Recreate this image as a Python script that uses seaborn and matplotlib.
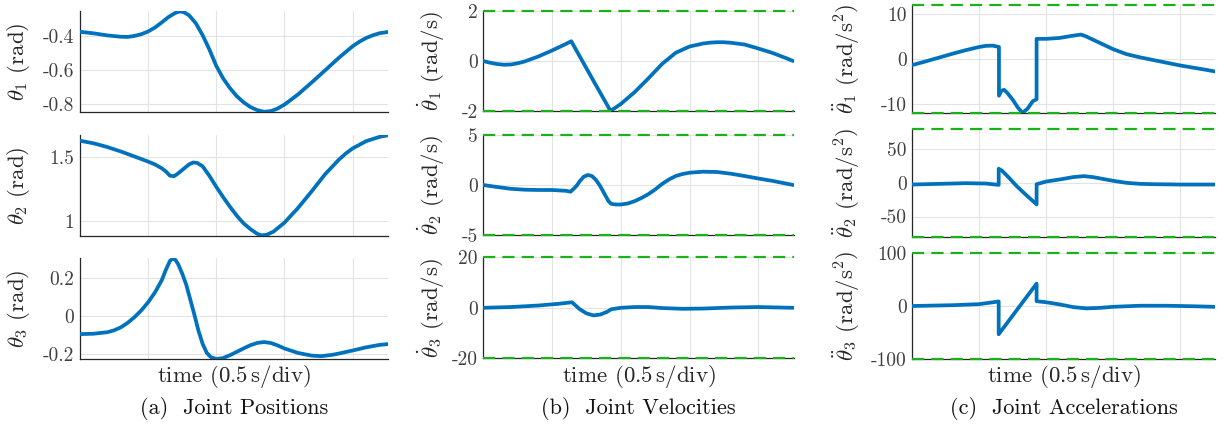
import numpy as np
import pandas as pd
import matplotlib
matplotlib.use("Agg")
import matplotlib.pyplot as plt
import seaborn as sns

# ---------------- data ----------------
t_pos1 = [0, 0.1, 0.2, 0.3, 0.35, 0.4, 0.45, 0.5, 0.55, 0.6, 0.65, 0.7, 0.73, 0.76, 0.8, 0.85,
          0.9, 0.95, 1.0, 1.05, 1.1, 1.15, 1.2, 1.25, 1.3, 1.35, 1.4, 1.45, 1.5, 1.6, 1.7, 1.8,
          1.9, 2.0, 2.05, 2.1, 2.15, 2.2, 2.26]
pos1 = [-0.375, -0.384, -0.396, -0.404, -0.405, -0.399, -0.389, -0.373, -0.350, -0.320, -0.288,
        -0.264, -0.256, -0.259, -0.278, -0.325, -0.395, -0.480, -0.575, -0.648, -0.705, -0.752,
        -0.788, -0.816, -0.834, -0.844, -0.840, -0.825, -0.802, -0.742, -0.672, -0.600, -0.527,
        -0.460, -0.433, -0.411, -0.395, -0.383, -0.376]

t_pos2 = [0, 0.1, 0.2, 0.3, 0.4, 0.5, 0.55, 0.6, 0.63, 0.66, 0.69, 0.72, 0.76, 0.8, 0.83, 0.86,
          0.9, 0.95, 1.0, 1.05, 1.1, 1.15, 1.2, 1.25, 1.3, 1.33, 1.37, 1.42, 1.5, 1.6, 1.7, 1.8,
          1.9, 1.95, 2.0, 2.1, 2.2, 2.26]
pos2 = [1.625, 1.605, 1.576, 1.541, 1.502, 1.462, 1.440, 1.410, 1.385, 1.352, 1.348, 1.370,
        1.405, 1.440, 1.455, 1.452, 1.425, 1.350, 1.265, 1.185, 1.110, 1.040, 0.980, 0.935,
        0.898, 0.886, 0.890, 0.915, 0.985, 1.100, 1.230, 1.365, 1.478, 1.525, 1.565, 1.622,
        1.656, 1.668]

t_pos3 = [0, 0.1, 0.2, 0.25, 0.3, 0.35, 0.4, 0.45, 0.5, 0.55, 0.6, 0.63, 0.66, 0.68, 0.70, 0.72,
          0.75, 0.78, 0.81, 0.84, 0.87, 0.9, 0.93, 0.96, 1.0, 1.05, 1.1, 1.15, 1.2, 1.25, 1.3,
          1.35, 1.4, 1.45, 1.5, 1.6, 1.7, 1.77, 1.85, 1.9, 2.0, 2.1, 2.2, 2.26]
pos3 = [-0.096, -0.094, -0.086, -0.076, -0.060, -0.036, -0.006, 0.030, 0.073, 0.125, 0.190,
        0.245, 0.292, 0.305, 0.298, 0.275, 0.225, 0.165, 0.085, 0.005, -0.080, -0.148, -0.195,
        -0.218, -0.228, -0.223, -0.208, -0.190, -0.172, -0.155, -0.143, -0.138, -0.143, -0.156,
        -0.172, -0.196, -0.210, -0.213, -0.206, -0.199, -0.183, -0.166, -0.153, -0.149]

t_vel1 = [0, 0.05, 0.1, 0.15, 0.2, 0.25, 0.3, 0.4, 0.5, 0.6, 0.64, 0.7, 0.8, 0.9, 0.925, 1.0,
          1.1, 1.2, 1.3, 1.4, 1.5, 1.6, 1.65, 1.7, 1.75, 1.8, 1.9, 2.0, 2.1, 2.2, 2.254]
vel1 = [0, -0.07, -0.12, -0.15, -0.14, -0.09, -0.02, 0.18, 0.42, 0.68, 0.79, 0.20, -0.78, -1.75,
        -2.0, -1.72, -1.25, -0.70, -0.12, 0.33, 0.58, 0.70, 0.735, 0.75, 0.75, 0.73, 0.66, 0.50,
        0.33, 0.12, 0]

t_vel2 = [0, 0.1, 0.2, 0.3, 0.4, 0.5, 0.6, 0.635, 0.66, 0.68, 0.7, 0.73, 0.76, 0.79, 0.82, 0.85,
          0.88, 0.91, 0.93, 0.96, 1.0, 1.05, 1.1, 1.15, 1.2, 1.25, 1.3, 1.35, 1.4, 1.45, 1.5, 1.6,
          1.7, 1.8, 1.9, 2.0, 2.1, 2.2, 2.254]
vel2 = [0, -0.2, -0.38, -0.47, -0.5, -0.5, -0.58, -0.67, -0.35, -0.05, 0.35, 0.82, 1.0, 0.9,
        0.5, -0.1, -0.85, -1.6, -1.88, -1.95, -1.95, -1.85, -1.62, -1.3, -0.92, -0.45, 0.1, 0.55,
        0.9, 1.1, 1.23, 1.33, 1.3, 1.13, 0.9, 0.65, 0.42, 0.15, 0]

t_vel3 = [0, 0.2, 0.4, 0.55, 0.645, 0.7, 0.75, 0.8, 0.85, 0.9, 0.93, 1.0, 1.1, 1.2, 1.3, 1.45,
          1.6, 1.8, 2.0, 2.254]
vel3 = [0, 0.3, 0.9, 1.6, 2.2, -0.5, -2.2, -3.0, -2.7, -1.6, -0.6, 0.0, 0.3, 0.3, -0.1, -0.4,
        -0.3, 0.1, 0.3, 0]

t_acc1 = [0, 0.1, 0.2, 0.3, 0.4, 0.5, 0.55, 0.6, 0.647, 0.647, 0.665, 0.685, 0.71, 0.75, 0.79,
          0.823, 0.86, 0.9, 0.928, 0.928, 1.0, 1.1, 1.2, 1.26, 1.3, 1.4, 1.5, 1.6, 1.7, 1.8, 1.9,
          2.0, 2.1, 2.2, 2.254]
acc1 = [-1.3, -0.5, 0.35, 1.2, 2.0, 2.7, 2.95, 3.0, 2.7, -8.1, -7.0, -6.8, -7.5, -9.0, -10.8,
        -11.9, -11.0, -9.3, -8.9, 4.5, 4.5, 4.7, 5.2, 5.45, 5.0, 3.6, 2.2, 1.1, 0.4, -0.2, -0.8,
        -1.4, -1.9, -2.4, -2.7]

t_acc2 = [0, 0.2, 0.4, 0.55, 0.645, 0.645, 0.67, 0.72, 0.78, 0.85, 0.928, 0.928, 1.0, 1.1, 1.2,
          1.28, 1.35, 1.5, 1.6, 1.7, 1.8, 2.0, 2.254]
acc2 = [-2.5, -1.5, -0.5, -1.0, -3.0, 21.0, 18.0, 8.0, -5.0, -18.0, -32.0, -2.0, 2.0, 5.0, 8.5,
        10.0, 8.5, 3.0, 0.0, -1.5, -2.0, -2.5, -2.5]

t_acc3 = [0, 0.3, 0.5, 0.645, 0.645, 0.928, 0.928, 1.0, 1.1, 1.2, 1.3, 1.4, 1.5, 1.7, 1.9, 2.1,
          2.254]
acc3 = [0, 1.5, 3.5, 8.5, -53.0, 42.0, 9.0, 7.0, 3.0, -2.0, -4.5, -3.5, -1.5, 0.5, 0.5, -0.5,
        -1.5]

vel_limits = [2, 5, 20]
acc_limits = [12, 80, 100]

pos_ylims = [(-0.847, -0.253), (0.883, 1.67), (-0.228, 0.306)]
pos_ticks = [[-0.8, -0.6, -0.4], [1.0, 1.5], [-0.2, 0.0, 0.2]]
pos_ticklabels = [["-0.8", "-0.6", "-0.4"], ["1", "1.5"], ["-0.2", "0", "0.2"]]
vel_ticks = [[-2, 0, 2], [-5, 0, 5], [-20, 0, 20]]
vel_ticklabels = [["-2", "0", "2"], ["-5", "0", "5"], ["-20", "0", "20"]]
acc_ticks = [[-10, 0, 10], [-50, 0, 50], [-100, 0, 100]]
acc_ticklabels = [["-10", "0", "10"], ["-50", "0", "50"], ["-100", "0", "100"]]

time_ticks = [0.5, 1.0, 1.5, 2.0]
t_end = 2.26

pos_labels = [r"$\theta_1$ (rad)", r"$\theta_2$ (rad)", r"$\theta_3$ (rad)"]
vel_labels = [r"$\dot{\theta}_1$ (rad/s)", r"$\dot{\theta}_2$ (rad/s)", r"$\dot{\theta}_3$ (rad/s)"]
acc_labels = [r"$\ddot{\theta}_1$ (rad/s$^2$)", r"$\ddot{\theta}_2$ (rad/s$^2$)",
              r"$\ddot{\theta}_3$ (rad/s$^2$)"]
xlabel_text = r"time $(0.5\,\mathrm{s/div})$"
captions = ["(a)  Joint Positions", "(b)  Joint Velocities", "(c)  Joint Accelerations"]

# ---------------- style ----------------
sns.set_style("white")
plt.rcParams["font.family"] = ["cmr10", "DejaVu Serif"]
plt.rcParams["mathtext.fontset"] = "cm"
plt.rcParams["axes.unicode_minus"] = False
plt.rcParams["axes.formatter.use_mathtext"] = True

LINE = "#0072BD"
GREEN = "#1DB01D"
TXT = "#262626"
GRID = "#E3E3E3"

W, H = 1224, 425
fig = plt.figure(figsize=(W / 100, H / 100), dpi=100)


def add_ax(left, right, top, bottom):
    return fig.add_axes([left / W, 1 - bottom / H, (right - left) / W, (bottom - top) / H])


col_x = [(80, 388), (483.3, 794), (912.3, 1215)]
rows = [
    [(11, 112.3), (135, 235.7), (258.3, 359)],
    [(11, 111), (135, 235), (257.3, 358.3)],
    [(5, 113.3), (129, 236.7), (252.7, 359.3)],
]
label_x = [-0.157, -0.118, -0.167]

series = [
    [(t_pos1, pos1), (t_pos2, pos2), (t_pos3, pos3)],
    [(t_vel1, vel1), (t_vel2, vel2), (t_vel3, vel3)],
    [(t_acc1, acc1), (t_acc2, acc2), (t_acc3, acc3)],
]
ylabels = [pos_labels, vel_labels, acc_labels]
ticks = [pos_ticks, vel_ticks, acc_ticks]
ticklabels = [pos_ticklabels, vel_ticklabels, acc_ticklabels]
limits = [None, vel_limits, acc_limits]

FS_TICK = 14
FS_LAB = 16.5
FS_CAP = 16
for c in range(3):
    for r in range(3):
        top, bottom = rows[c][r]
        ax = add_ax(col_x[c][0], col_x[c][1], top, bottom)
        tt, yy = series[c][r]
        df = pd.DataFrame({"t": tt, "y": yy})
        sns.lineplot(data=df, x="t", y="y", ax=ax, color=LINE, linewidth=2.7,
                     estimator=None, sort=False, zorder=3)
        ax.set_xlim(0, t_end)
        if c == 0:
            ax.set_ylim(*pos_ylims[r])
        else:
            lim = limits[c][r]
            ax.set_ylim(-lim, lim)
            for yv in (-lim, lim):
                ax.axhline(yv, color=GREEN, linewidth=1.6, linestyle=(0, (5.5, 3.2)),
                           zorder=5, clip_on=False)
        ax.set_xticks(time_ticks)
        ax.set_xticklabels([])
        ax.set_yticks(ticks[c][r])
        ax.set_yticklabels(ticklabels[c][r], fontsize=FS_TICK, color="#404040")
        ax.tick_params(axis="both", direction="in", length=4, width=0.8, color=TXT, pad=4)
        ax.grid(True, color=GRID, linewidth=0.8, zorder=0)
        ax.set_axisbelow(True)
        for s in ("top", "right"):
            ax.spines[s].set_visible(False)
        for s in ("left", "bottom"):
            ax.spines[s].set_color(TXT)
            ax.spines[s].set_linewidth(0.9)
        ax.set_xlabel("")
        ax.set_ylabel(ylabels[c][r], fontsize=FS_LAB, color=TXT)
        ax.yaxis.set_label_coords(label_x[c], 0.5)

    cx = (col_x[c][0] + col_x[c][1]) / 2 / W
    fig.text(cx, 1 - 377 / H, xlabel_text, ha="center", va="center", fontsize=FS_LAB, color=TXT)
    fig.text(cx, 1 - 408 / H, captions[c], ha="center", va="center", fontsize=FS_CAP,
             color="#111111")

fig.savefig("out.png", dpi=100)
